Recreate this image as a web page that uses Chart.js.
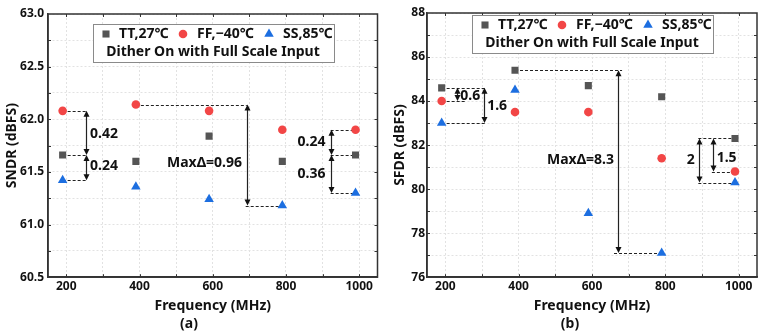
<!DOCTYPE html>
<html lang="en">
<head>
<meta charset="UTF-8">
<title>SNDR / SFDR vs Frequency</title>
<script src="https://cdn.jsdelivr.net/npm/chart.js"></script>
<style>
  body { margin: 0; background: #fff; }
  .panel { position: absolute; top: 0; height: 336px; }
</style>
</head>
<body>
<div class="panel" style="left:0;width:383px"><canvas id="sndrChart" width="383" height="336"></canvas></div>
<div class="panel" style="left:383px;width:382px"><canvas id="sfdrChart" width="382" height="336"></canvas></div>
<script>
// data
const freq = [190, 390, 590, 790, 990];
const freqGrid = [200, 300, 400, 500, 600, 700, 800, 900, 1000];
const seriesNames = ['TT,27℃', 'FF,−40℃', 'SS,85℃'];
const legendNote = 'Dither On with Full Scale Input';

const sndrTT = [61.66, 61.60, 61.84, 61.60, 61.66];
const sndrFF = [62.08, 62.14, 62.08, 61.90, 61.90];
const sndrSS = [61.42, 61.36, 61.24, 61.18, 61.30];

const sfdrTT = [84.6, 85.4, 84.7, 84.2, 82.3];
const sfdrFF = [84.0, 83.5, 83.5, 81.4, 80.8];
const sfdrSS = [83.0, 84.5, 78.9, 77.1, 80.3];

// annotations in data units: dashed guides [xFrom, xTo, y], arrows [x, yFrom, yTo], notes [text, x, y, align]
const sndrDashes = [
  [190, 255, 62.08], [190, 255, 61.66], [190, 255, 61.42],
  [390, 693, 62.14], [690, 790, 61.18],
  [922, 990, 61.90], [922, 990, 61.66], [922, 990, 61.30]
];
const sndrArrows = [[255, 62.08, 61.66], [255, 61.66, 61.42], [693, 62.14, 61.18], [923, 61.90, 61.66], [923, 61.66, 61.30]];
const sndrNotes = [
  ['0.42', 265, 61.86, 'left'], ['0.24', 265, 61.56, 'left'], ['MaxΔ=0.96', 680, 61.58, 'right'],
  ['0.24', 908, 61.78, 'right'], ['0.36', 908, 61.48, 'right']
];

const sfdrDashes = [
  [190, 309, 84.6], [190, 254, 84.0], [190, 309, 83.0],
  [390, 682, 85.4], [660, 790, 77.1],
  [890, 990, 82.3], [927, 990, 80.8], [890, 990, 80.3]
];
const sfdrArrows = [[233, 84.6, 84.0], [305, 84.6, 83.0], [672, 85.4, 77.1], [893, 82.3, 80.3], [931, 82.3, 80.8]];
const sfdrNotes = [
  ['0.6', 241, 84.25, 'left'], ['1.6', 314, 83.78, 'left'], ['MaxΔ=8.3', 660, 81.3, 'right'],
  ['2', 880, 81.3, 'right'], ['1.5', 940, 81.4, 'left']
];

const FONT = "'Noto Sans', 'DejaVu Sans', sans-serif";
const markerStyles = [
  { pointStyle: 'rect', radius: 5, color: '#555555' },
  { pointStyle: 'circle', radius: 4.3, color: '#f24646' },
  { pointStyle: 'triangle', radius: 5.5, color: '#1c6ee0' }
];

function arrowHead(ctx, x, tipY, dir) {
  // dir = -1 points up, 1 points down
  ctx.beginPath();
  ctx.moveTo(x, tipY);
  ctx.lineTo(x - 3, tipY - dir * 6);
  ctx.lineTo(x + 3, tipY - dir * 6);
  ctx.closePath();
  ctx.fill();
}

const extras = {
  id: 'extras',
  beforeDatasetsDraw(chart, args, opts) {
    const { ctx, scales: { x, y } } = chart;
    ctx.save();
    ctx.strokeStyle = '#222';
    ctx.fillStyle = '#111';
    ctx.lineWidth = 1;
    ctx.setLineDash([3, 2]);
    opts.dashes.forEach(([x0, x1, v]) => {
      const py = Math.round(y.getPixelForValue(v)) + 0.5;
      ctx.beginPath();
      ctx.moveTo(x.getPixelForValue(x0), py);
      ctx.lineTo(x.getPixelForValue(x1), py);
      ctx.stroke();
    });
    ctx.setLineDash([]);
    ctx.lineWidth = 1.2;
    opts.arrows.forEach(([xv, v0, v1]) => {
      const px = Math.round(x.getPixelForValue(xv)) + 0.5;
      const y0 = y.getPixelForValue(v0), y1 = y.getPixelForValue(v1);
      const dir = y1 > y0 ? 1 : -1;
      ctx.beginPath();
      ctx.moveTo(px, y0 + dir * 5);
      ctx.lineTo(px, y1 - dir * 5);
      ctx.stroke();
      arrowHead(ctx, px, y0, -dir);
      arrowHead(ctx, px, y1, dir);
    });
    ctx.restore();
  },
  afterDatasetsDraw(chart, args, opts) {
    const { ctx, chartArea: a, scales: { x, y } } = chart;
    ctx.save();
    // notes
    ctx.font = 'bold 14px ' + FONT;
    ctx.fillStyle = '#111';
    ctx.textBaseline = 'middle';
    opts.notes.forEach(([t, xv, v, align]) => {
      ctx.textAlign = align;
      ctx.fillText(t, x.getPixelForValue(xv), y.getPixelForValue(v));
    });
    // frame + inner ticks
    ctx.strokeStyle = '#333';
    ctx.lineWidth = 1.5;
    ctx.strokeRect(a.left, a.top, a.right - a.left, a.bottom - a.top);
    ctx.lineWidth = 1;
    x.ticks.forEach(t => {
      if (t.value <= x.min || t.value >= x.max) return;
      const px = Math.round(x.getPixelForValue(t.value)) + 0.5;
      ctx.beginPath();
      ctx.moveTo(px, a.bottom); ctx.lineTo(px, a.bottom - 3);
      ctx.moveTo(px, a.top); ctx.lineTo(px, a.top + 3);
      ctx.stroke();
    });
    y.ticks.forEach(t => {
      if (t.value <= y.min || t.value >= y.max) return;
      const py = Math.round(y.getPixelForValue(t.value)) + 0.5;
      ctx.beginPath();
      ctx.moveTo(a.left, py); ctx.lineTo(a.left + 3, py);
      ctx.moveTo(a.right, py); ctx.lineTo(a.right - 3, py);
      ctx.stroke();
    });
    // legend box
    const bx = a.left + opts.legendOffset[0], by = a.top + opts.legendOffset[1];
    ctx.fillStyle = '#fff';
    ctx.fillRect(bx, by, 241, 38);
    ctx.strokeStyle = '#8a8a8a';
    ctx.lineWidth = 1;
    ctx.strokeRect(bx + 0.5, by + 0.5, 241, 38);
    const markX = [13, 90, 176], textX = [26, 104, 190];
    ctx.font = 'bold 14px ' + FONT;
    ctx.textAlign = 'left';
    chart.data.datasets.forEach((ds, i) => {
      const m = markerStyles[i];
      ctx.fillStyle = m.color;
      Chart.helpers.drawPoint(ctx, { pointStyle: m.pointStyle, radius: m.radius, borderWidth: 0, rotation: 0 }, bx + markX[i], by + 10);
      ctx.fillStyle = '#111';
      ctx.fillText(ds.label, bx + textX[i], by + 10);
    });
    ctx.textAlign = 'center';
    ctx.fillText(legendNote, bx + 120, by + 28);
    ctx.restore();
  }
};

function makeChart(id, cfg) {
  const sets = [cfg.tt, cfg.ff, cfg.ss].map((vals, i) => ({
    label: seriesNames[i],
    data: freq.map((f, k) => ({ x: f, y: vals[k] })),
    pointStyle: markerStyles[i].pointStyle,
    pointRadius: markerStyles[i].radius,
    backgroundColor: markerStyles[i].color,
    borderColor: markerStyles[i].color,
    borderWidth: 0,
    showLine: false
  }));
  const tickFont = { family: FONT, size: 12, weight: 'bold' };
  const titleFont = { family: FONT, size: 14, weight: 'bold' };
  new Chart(document.getElementById(id), {
    type: 'scatter',
    data: { datasets: sets },
    options: {
      responsive: false,
      animation: false,
      layout: { padding: { top: cfg.padTop, right: cfg.padRight, left: 0, bottom: 0 } },
      plugins: {
        legend: { display: false },
        tooltip: { enabled: false },
        title: { display: true, position: 'bottom', text: cfg.tag, color: '#111', font: titleFont, padding: { top: 2, bottom: 4 } },
        extras: { dashes: cfg.dashes, arrows: cfg.arrows, notes: cfg.notes, legendOffset: cfg.legendOffset }
      },
      scales: {
        x: {
          type: 'linear', min: 150, max: 1050,
          afterBuildTicks: s => { s.ticks = freqGrid.map(v => ({ value: v })); },
          ticks: { autoSkip: false, maxRotation: 0, padding: 2, color: '#111', font: tickFont,
                   callback: v => (v % 200 === 0 ? String(v) : '') },
          grid: { color: '#e2e2e2', drawTicks: false },
          border: { dash: [2, 2], color: '#333', width: 1.5 },
          title: { display: true, text: 'Frequency (MHz)', color: '#111', font: titleFont, padding: { top: 0, bottom: -1 } },
          afterFit: s => { s.height = 36; }
        },
        y: {
          min: cfg.yMin, max: cfg.yMax,
          ticks: { stepSize: cfg.yStep, autoSkip: false, padding: cfg.yPad, color: '#111', font: tickFont,
                   callback: cfg.yLabel },
          grid: { color: '#e2e2e2', drawTicks: false },
          border: { dash: [2, 2], color: '#333', width: 1.5 },
          title: { display: true, text: cfg.yTitle, color: '#111', font: titleFont, padding: { top: cfg.yTitlePad, bottom: 0 } },
          afterFit: s => { s.width = cfg.yWidth; }
        }
      }
    },
    plugins: [extras]
  });
}

makeChart('sndrChart', {
  tt: sndrTT, ff: sndrFF, ss: sndrSS,
  dashes: sndrDashes, arrows: sndrArrows, notes: sndrNotes,
  tag: '(a)', yTitle: 'SNDR (dBFS)',
  yMin: 60.5, yMax: 63, yStep: 0.25,
  yLabel: v => (Math.abs(v * 2 - Math.round(v * 2)) < 1e-6 ? v.toFixed(1) : ''),
  yWidth: 48, yPad: 4, yTitlePad: 4,
  padTop: 14, padRight: 5, legendOffset: [45, 10]
});

makeChart('sfdrChart', {
  tt: sfdrTT, ff: sfdrFF, ss: sfdrSS,
  dashes: sfdrDashes, arrows: sfdrArrows, notes: sfdrNotes,
  tag: '(b)', yTitle: 'SFDR (dBFS)',
  yMin: 76, yMax: 88, yStep: 1,
  yLabel: v => (Math.round(v) % 2 === 0 ? String(Math.round(v)) : ''),
  yWidth: 44, yPad: 2, yTitlePad: 9,
  padTop: 13, padRight: 8, legendOffset: [45, 2]
});
</script>
</body>
</html>
